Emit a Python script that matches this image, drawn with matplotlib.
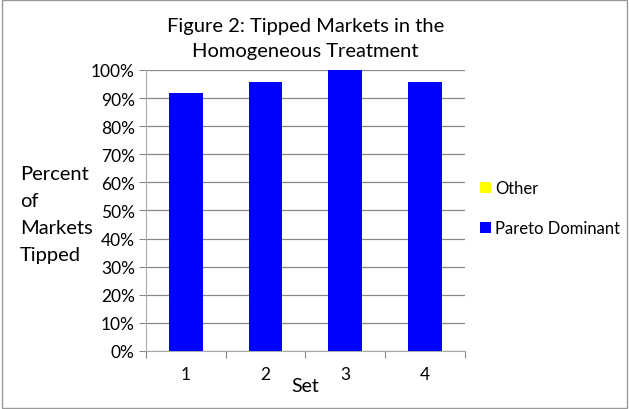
import numpy as np
import matplotlib.pyplot as plt
from matplotlib.patches import Rectangle

# Data
sets = ["1", "2", "3", "4"]
pareto = [91.7, 95.8, 100.0, 95.8]
other = [0.0, 0.0, 0.0, 0.0]

plt.rcParams['font.family'] = ['Lato', 'DejaVu Sans']

fig = plt.figure(figsize=(6.29, 4.10), dpi=100)
ax = fig.add_axes([0.232, 0.1415, 0.507, 0.6855])

x = np.arange(len(sets))
ax.bar(x, pareto, width=0.42, color='#0000ff', zorder=3, label='Pareto Dominant')
ax.bar(x, other, width=0.42, bottom=pareto, color='#ffff00', zorder=3, label='Other')

ax.set_xlim(-0.5, len(sets) - 0.5)
ax.set_ylim(0, 100)
ax.set_yticks(np.arange(0, 101, 10))
ax.set_yticklabels([f"{v}%" for v in range(0, 101, 10)], fontsize=12.5)
ax.set_xticks(np.arange(-0.5, len(sets), 1.0))
ax.set_xticklabels([])
ax.set_xticks(x, minor=True)
ax.set_xticklabels(sets, minor=True, fontsize=12.5)
ax.tick_params(axis='x', which='minor', length=0, pad=11)
ax.tick_params(axis='x', which='major', length=5, color='#888888')
ax.tick_params(axis='y', length=5, color='#888888', pad=3)
ax.grid(axis='y', color='#888888', linewidth=0.9, zorder=0)

for s in ['top', 'right']:
    ax.spines[s].set_visible(False)
ax.spines['left'].set_color('#aaaaaa')
ax.spines['bottom'].set_color('#aaaaaa')

ax.set_xlabel('Set', fontsize=14, labelpad=-4)
fig.text(0.032, 0.476, "Percent\nof\nMarkets\nTipped", fontsize=14.5,
         ha='left', va='center', linespacing=1.72)
fig.text(0.486, 0.905, "Figure 2: Tipped Markets in the\nHomogeneous Treatment",
         fontsize=14.5, ha='center', va='center', linespacing=1.55)

handles, labels = ax.get_legend_handles_labels()
fig.legend(handles[::-1], labels[::-1], loc='center left',
           bbox_to_anchor=(0.74, 0.49), frameon=False, fontsize=12,
           handlelength=0.65, handleheight=0.65, handletextpad=0.25,
           labelspacing=1.45)

# outer border
fig.patches.append(Rectangle((0.003, 0.003), 0.994, 0.994, transform=fig.transFigure,
                             fill=False, edgecolor='#999999', linewidth=1))

plt.savefig('out.png', dpi=100)
